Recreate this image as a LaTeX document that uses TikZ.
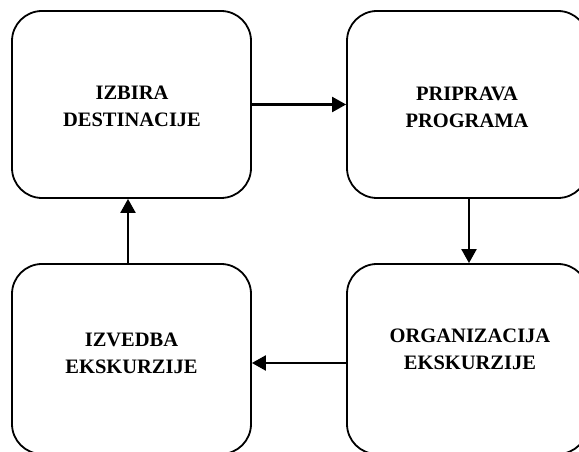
\documentclass[tikz,border=0pt]{standalone}
\usepackage{fontspec}
\setmainfont{Liberation Serif}
\usetikzlibrary{arrows.meta}
\begin{document}
\begin{tikzpicture}[x=1pt,y=1pt,
  stage/.style={draw, line width=1.8pt, rounded corners=30pt, inner sep=0pt},
  caption/.style={font=\fontsize{20.5}{27.5}\selectfont\bfseries, align=center, inner sep=0pt},
  flow/.style={line width=2.2pt, -{Triangle[length=14pt,width=15pt]}}]
\useasboundingbox (0,0) rectangle (579,452);
\clip (0,0) rectangle (579,452);
% four stages of the excursion cycle
\node[stage, minimum width=239pt, minimum height=187pt] (izbira) at (131.5,347.5) {};
\node[stage, minimum width=241pt, minimum height=187pt] (priprava) at (467.5,347.5) {};
\node[stage, minimum width=239pt, minimum height=190pt] (izvedba) at (131.5,93) {};
\node[stage, minimum width=241pt, minimum height=190pt] (organizacija) at (467.5,93) {};
% labels
\node[caption] (t1) at (132,345.5) {IZBIRA\\DESTINACIJE};
\node[caption] (t2) at (467,344.5) {PRIPRAVA\\PROGRAMA};
\node[caption] (t3) at (131.5,98.5) {IZVEDBA\\EKSKURZIJE};
\node[caption] (t4) at (470,102.5) {ORGANIZACIJA\\EKSKURZIJE};
% connectors
\draw[flow] (izbira.east) -- (priprava.west);
\draw[flow] ([xshift=1.5pt]priprava.south) -- ([xshift=1.5pt]organizacija.north);
\draw[flow] ([yshift=-4pt]organizacija.west) -- ([yshift=-4pt]izvedba.east);
\draw[flow] ([xshift=-3.5pt]izvedba.north) -- ([xshift=-3.5pt]izbira.south);
\end{tikzpicture}
\end{document}
